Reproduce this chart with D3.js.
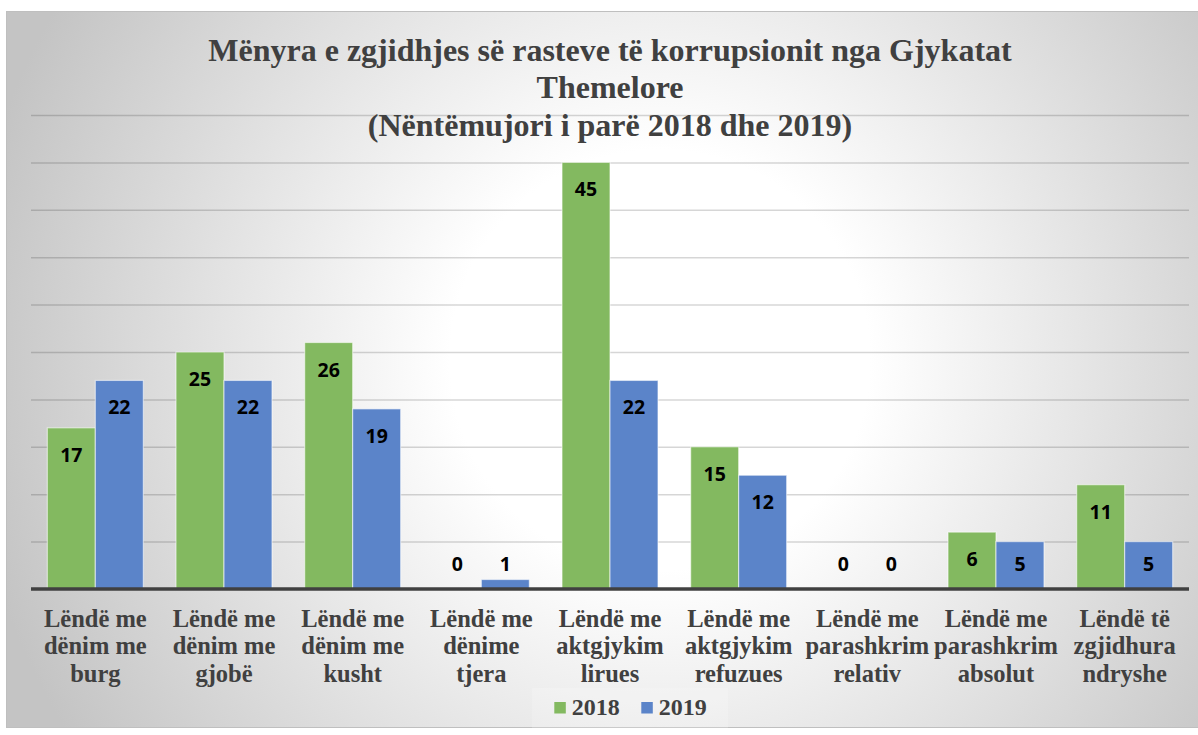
<!DOCTYPE html>
<html>
<head>
<meta charset="utf-8">
<script src="https://cdn.jsdelivr.net/npm/d3@7"></script>
<style>
  html, body { margin: 0; padding: 0; background: #fff; }
  #chart { width: 1198px; height: 735px; overflow: hidden; }
</style>
</head>
<body>
<div id="chart"></div>
<script>
// chart data
const titleLines = [
  "Mënyra e zgjidhjes së rasteve të korrupsionit nga Gjykatat",
  "Themelore",
  "(Nëntëmujori i parë 2018 dhe 2019)"
];
const categories = [
  "Lëndë me\ndënim me\nburg",
  "Lëndë me\ndënim me\ngjobë",
  "Lëndë me\ndënim me\nkusht",
  "Lëndë me\ndënime\ntjera",
  "Lëndë me\naktgjykim\nlirues",
  "Lëndë me\naktgjykim\nrefuzues",
  "Lëndë me\nparashkrim\nrelativ",
  "Lëndë me\nparashkrim\nabsolut",
  "Lëndë të\nzgjidhura\nndryshe"
];
const seriesNames = ["2018", "2019"];
const values2018 = [17, 25, 26, 0, 45, 15, 0, 6, 11];
const values2019 = [22, 22, 19, 1, 22, 12, 0, 5, 5];
const seriesColors = ["#83b960", "#5b84c9"];

const width = 1198;
const height = 735;
const plot = { left: 31, right: 1189, top: 115, bottom: 589 };

const serif = "Liberation Serif, Times New Roman, serif";
const sans = "Open Sans, Noto Sans, sans-serif";
const textGray = "#404040";

const svg = d3.select("#chart")
  .append("svg")
  .attr("width", width)
  .attr("height", height);

// background: Excel style gradient from the centre
const defs = svg.append("defs");
const grad = defs.append("radialGradient")
  .attr("id", "bg")
  .attr("gradientUnits", "userSpaceOnUse")
  .attr("cx", 660).attr("cy", 360).attr("r", 700);
grad.append("stop").attr("offset", "0").attr("stop-color", "#ffffff");
grad.append("stop").attr("offset", "0.3").attr("stop-color", "#ffffff");
grad.append("stop").attr("offset", "1").attr("stop-color", "#c4c4c4");

svg.append("rect")
  .attr("x", 6.5).attr("y", 11.5)
  .attr("width", 1206).attr("height", 716)
  .attr("fill", "url(#bg)")
  .attr("stroke", "#bfbfbf")
  .attr("stroke-width", 1);

// scales
const x = d3.scaleBand()
  .domain(categories)
  .range([plot.left, plot.right])
  .paddingInner(0.254)
  .paddingOuter(0.127);

const xInner = d3.scaleBand()
  .domain(seriesNames)
  .range([0, x.bandwidth()]);

const y = d3.scaleLinear()
  .domain([0, 50])
  .range([plot.bottom, plot.top]);

// gridlines
const grid = svg.append("g")
  .attr("transform", `translate(${plot.left},0)`)
  .call(d3.axisLeft(y).ticks(10).tickSize(-(plot.right - plot.left)).tickFormat(""));
grid.select(".domain").remove();
grid.selectAll(".tick").filter(d => d === 0).remove();
grid.selectAll(".tick line")
  .attr("stroke", "#000")
  .attr("stroke-opacity", 0.16)
  .attr("stroke-width", 1.5);

// bars
const rows = categories.map((c, i) => ({
  category: c,
  values: [
    { series: seriesNames[0], value: values2018[i], color: seriesColors[0] },
    { series: seriesNames[1], value: values2019[i], color: seriesColors[1] }
  ]
}));

const groups = svg.append("g")
  .selectAll("g")
  .data(rows)
  .join("g")
  .attr("transform", d => `translate(${x(d.category)},0)`);

groups.selectAll("rect")
  .data(d => d.values)
  .join("rect")
  .attr("x", d => xInner(d.series))
  .attr("y", d => y(d.value))
  .attr("width", xInner.bandwidth())
  .attr("height", d => y(0) - y(d.value))
  .attr("fill", d => d.color)
  .attr("stroke", "rgba(255,255,255,0.55)")
  .attr("stroke-width", 1.2);

// value labels (inside end, but kept above the axis)
groups.selectAll("text")
  .data(d => d.values)
  .join("text")
  .attr("x", d => xInner(d.series) + xInner.bandwidth() / 2)
  .attr("y", d => Math.min(y(d.value) + 34, y(0) - 18))
  .attr("text-anchor", "middle")
  .attr("font-family", sans)
  .attr("font-weight", 700)
  .attr("font-size", 19.5)
  .attr("fill", "#000")
  .text(d => d.value);

// x axis line
svg.append("line")
  .attr("x1", plot.left).attr("x2", plot.right)
  .attr("y1", y(0)).attr("y2", y(0))
  .attr("stroke", "#404040")
  .attr("stroke-width", 3.5);

// category labels
const catLabels = svg.append("g")
  .selectAll("text")
  .data(categories)
  .join("text")
  .attr("text-anchor", "middle")
  .attr("x", d => x(d) + x.bandwidth() / 2)
  .attr("y", 626.7)
  .attr("font-family", serif)
  .attr("font-weight", 700)
  .attr("font-size", 24.5)
  .attr("fill", textGray);

catLabels.selectAll("tspan")
  .data(d => d.split("\n"))
  .join("tspan")
  .attr("x", function() { return this.parentNode.getAttribute("x"); })
  .attr("dy", (d, i) => i === 0 ? 0 : 27.4)
  .text(d => d);

// title
svg.append("g")
  .selectAll("text")
  .data(titleLines)
  .join("text")
  .attr("x", 610)
  .attr("y", (d, i) => 60.7 + i * 37.7)
  .attr("text-anchor", "middle")
  .attr("font-family", serif)
  .attr("font-weight", 700)
  .attr("font-size", 32)
  .attr("fill", textGray)
  .text(d => d);

// legend
const legend = svg.append("g");
legend.append("rect")
  .attr("x", 532).attr("y", 688)
  .attr("width", 196).attr("height", 40)
  .attr("fill", "#fff")
  .attr("fill-opacity", 0.18);

const items = legend.selectAll("g")
  .data(seriesNames)
  .join("g");

items.append("rect")
  .attr("width", 11.5).attr("height", 11.5)
  .attr("y", 702)
  .attr("fill", (d, i) => seriesColors[i]);

items.append("text")
  .attr("x", 17.5)
  .attr("y", 715)
  .attr("font-family", serif)
  .attr("font-weight", 700)
  .attr("font-size", 24)
  .attr("fill", textGray)
  .text(d => d);

// lay the legend items out next to each other
let lx = 554.3;
items.each(function() {
  const g = d3.select(this);
  g.attr("transform", `translate(${lx},0)`);
  lx += 17.5 + g.select("text").node().getComputedTextLength() + 21.5;
});
</script>
</body>
</html>
